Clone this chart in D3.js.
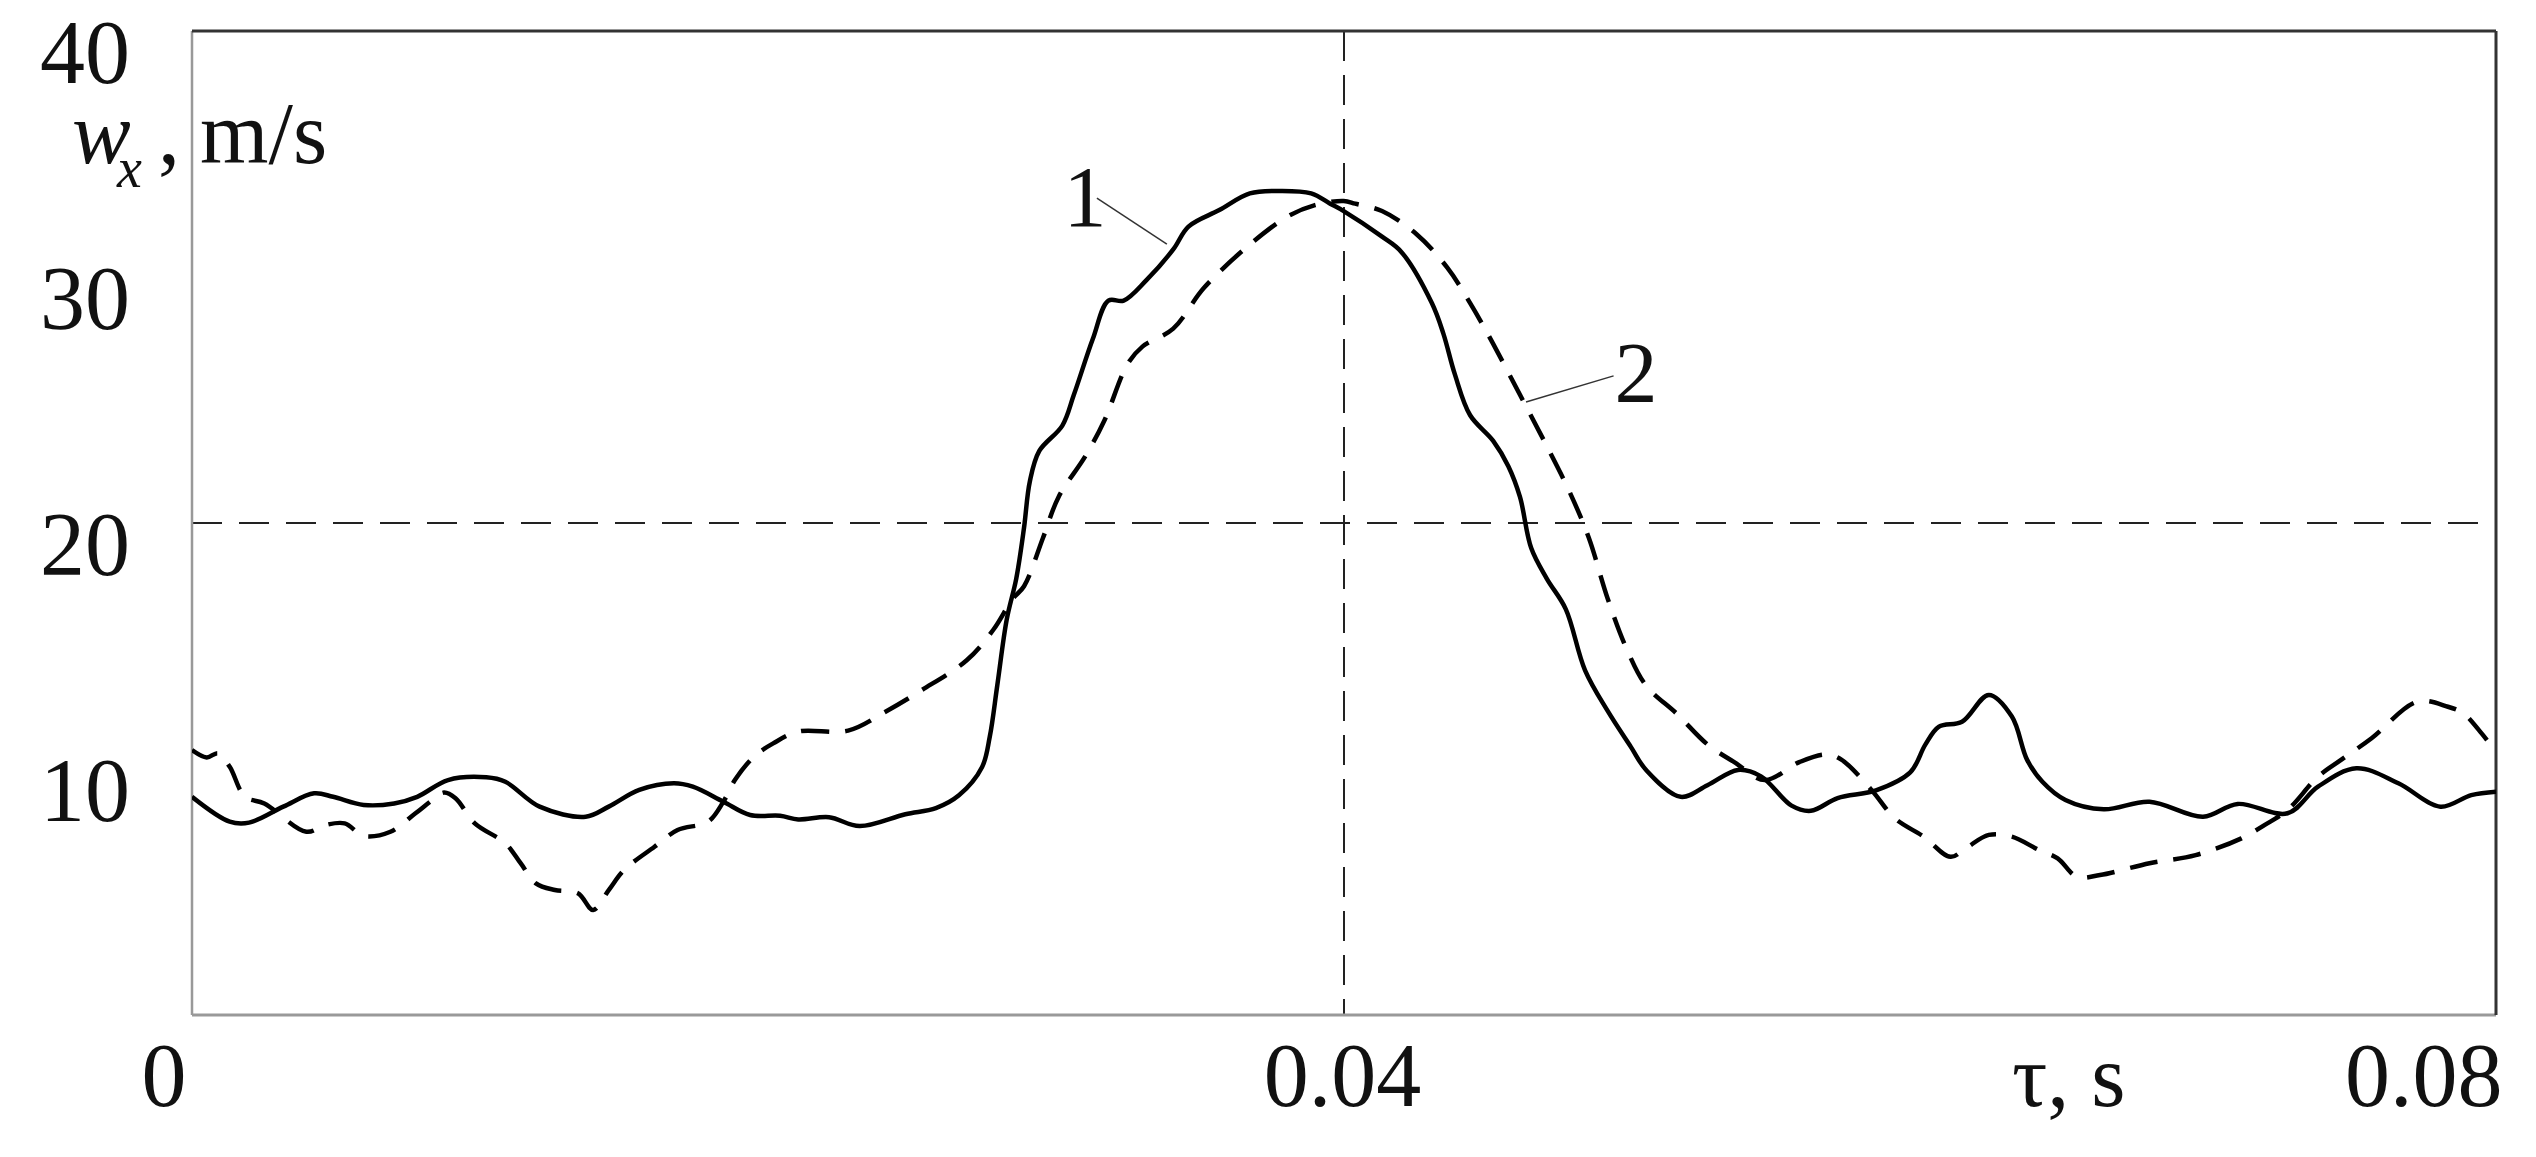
<!DOCTYPE html>
<html lang="en">
<head>
<meta charset="UTF-8">
<title>w_x vs tau</title>
<script src="https://d3js.org/d3.v7.min.js"></script>
<style>
  body { margin: 0; background: #fff; }
  text { font-family: "Liberation Serif", "Times New Roman", serif; fill: #111; }
</style>
</head>
<body>
<svg id="chart" width="2536" height="1157"></svg>
<script>
// curve 1 (solid)
const t1 = [0, 0.00131, 0.00198, 0.00317, 0.00424, 0.0049, 0.00596, 0.00702, 0.00782, 0.00889,
  0.01022, 0.01088, 0.01207, 0.01367, 0.01447, 0.01553, 0.01673, 0.01739, 0.01845, 0.01938,
  0.02042, 0.02105, 0.02212, 0.02318, 0.02477, 0.02583, 0.02663, 0.02743, 0.0277, 0.02796,
  0.02829, 0.02862, 0.02889, 0.02909, 0.02942, 0.03022, 0.03062, 0.03128, 0.03182, 0.03235,
  0.03314, 0.03407, 0.0346, 0.03567, 0.03673, 0.03779, 0.03886, 0.03952, 0.03999, 0.04132,
  0.04199, 0.04305, 0.04345, 0.04385, 0.04438, 0.04518, 0.04571, 0.04611, 0.0465, 0.04704,
  0.0477, 0.04837, 0.04916, 0.04996, 0.05049, 0.05169, 0.05262, 0.05368, 0.05448, 0.05554,
  0.05621, 0.05714, 0.05847, 0.05966, 0.06019, 0.06066, 0.06146, 0.06239, 0.06319, 0.06372,
  0.06425, 0.06505, 0.06638, 0.06797, 0.06983, 0.07103, 0.07276, 0.07382, 0.07515, 0.07661,
  0.07807, 0.07914, 0.08];
const v1 = [8.87, 7.86, 7.82, 8.47, 9.01, 8.87, 8.54, 8.6, 8.87, 9.55,
  9.66, 9.48, 8.47, 8.06, 8.47, 9.15, 9.42, 9.28, 8.67, 8.13,
  8.1, 7.95, 8.04, 7.68, 8.16, 8.41, 8.93, 10.07, 11.31, 13.39,
  16.08, 17.74, 19.81, 21.68, 22.93, 23.96, 25.21, 27.49, 29.04, 29.04,
  29.87, 31.12, 32.05, 32.72, 33.4, 33.5, 33.4, 32.98, 32.68, 31.64,
  31.02, 28.94, 27.7, 26.04, 24.38, 23.34, 22.3, 21.06, 18.98, 17.74,
  16.5, 14.01, 12.35, 10.9, 9.96, 8.87, 9.34, 9.96, 9.7, 8.51,
  8.3, 8.82, 9.13, 9.86, 11.0, 11.72, 11.92, 13.01, 12.13, 10.37,
  9.48, 8.74, 8.36, 8.67, 8.06, 8.58, 8.2, 9.28, 10.03, 9.42,
  8.47, 8.94, 9.08];

// curve 2 (dashed)
const t2 = [0, 0.00051, 0.00091, 0.00131, 0.00184, 0.00251, 0.00397, 0.00463, 0.0053, 0.00596,
  0.00689, 0.00776, 0.00835, 0.00875, 0.00915, 0.00982, 0.01088, 0.01141, 0.01194, 0.0126,
  0.0134, 0.01393, 0.01447, 0.015, 0.01606, 0.01686, 0.01792, 0.01845, 0.01885, 0.01951,
  0.02018, 0.02105, 0.02278, 0.02411, 0.0253, 0.0269, 0.02783, 0.02849, 0.02889, 0.02955,
  0.03009, 0.03102, 0.03168, 0.03248, 0.03301, 0.03407, 0.03514, 0.03673, 0.03806, 0.03899,
  0.03999, 0.04039, 0.04132, 0.04252, 0.04358, 0.04438, 0.04518, 0.04611, 0.04704, 0.04783,
  0.0485, 0.04916, 0.04983, 0.05049, 0.05156, 0.05262, 0.05355, 0.05461, 0.05581, 0.05674,
  0.05727, 0.05833, 0.05913, 0.06013, 0.06106, 0.06159, 0.06239, 0.06319, 0.06412, 0.06478,
  0.06545, 0.06625, 0.06797, 0.06957, 0.07116, 0.07196, 0.07276, 0.07382, 0.07462, 0.07568,
  0.07727, 0.07833, 0.07887, 0.0794, 0.08];
const v2 = [10.77, 10.47, 10.64, 10.09, 8.87, 8.6, 7.45, 7.72, 7.79, 7.28,
  7.45, 8.2, 8.74, 9.04, 8.81, 7.79, 6.98, 6.17, 5.35, 5.08,
  4.95, 4.27, 5.08, 5.89, 6.84, 7.52, 7.86, 8.67, 9.55, 10.5,
  11.04, 11.52, 11.56, 12.35, 13.18, 14.42, 15.67, 16.91, 17.43, 19.4,
  21.06, 22.72, 24.17, 26.45, 27.18, 27.9, 29.56, 31.32, 32.47, 32.92,
  33.09, 32.98, 32.68, 31.74, 30.39, 28.94, 27.28, 25.21, 23.13, 21.27,
  19.4, 16.91, 14.84, 13.39, 12.24, 11.0, 10.28, 9.55, 10.28, 10.59,
  10.38, 9.13, 7.99, 7.25, 6.43, 6.78, 7.32, 7.25, 6.71, 6.37,
  5.62, 5.69, 6.17, 6.5, 7.18, 7.72, 8.33, 9.69, 10.37, 11.25,
  12.74, 12.53, 12.26, 11.59, 10.7];

const yTicks = [10, 20, 30, 40];
const xTicks = [0, 0.04, 0.08];
const xTickLabels = ["0", "0.04", "0.08"];

// curve labels: [text, label t, label v, leader from t, v, to t, v]
const curveLabels = [
  ["1", 0.03101, 32.07, 0.03142, 33.21, 0.03385, 31.34],
  ["2", 0.05014, 24.92, 0.04936, 25.98, 0.04632, 24.92]
];

const svg = d3.select("#chart");
const mLeft = 192, mRight = 2496, mTop = 31, mBottom = 1015;

const x = d3.scaleLinear().domain([0, 0.08]).range([mLeft, mRight]);
const y = d3.scaleLinear().domain([0, 40]).range([mBottom, mTop]);

svg.append("rect").attr("width", 2536).attr("height", 1157).attr("fill", "#fff");

svg.append("defs").append("clipPath").attr("id", "clip")
  .append("rect").attr("x", mLeft).attr("y", mTop)
  .attr("width", mRight - mLeft).attr("height", mBottom - mTop);

// reference dashed lines
svg.append("line")
  .attr("x1", mLeft).attr("x2", mRight).attr("y1", y(20)).attr("y2", y(20))
  .attr("stroke", "#222").attr("stroke-width", 2).attr("stroke-dasharray", "30,17");
svg.append("line")
  .attr("x1", x(0.04)).attr("x2", x(0.04)).attr("y1", mTop).attr("y2", mBottom)
  .attr("stroke", "#222").attr("stroke-width", 2).attr("stroke-dasharray", "30,14");

// frame: left/bottom grey, top/right dark
svg.append("line").attr("x1", mLeft).attr("x2", mLeft).attr("y1", mTop).attr("y2", mBottom)
  .attr("stroke", "#999").attr("stroke-width", 2.5);
svg.append("line").attr("x1", mLeft).attr("x2", mRight).attr("y1", mBottom).attr("y2", mBottom)
  .attr("stroke", "#999").attr("stroke-width", 3);
svg.append("line").attr("x1", mLeft).attr("x2", mRight).attr("y1", mTop).attr("y2", mTop)
  .attr("stroke", "#333").attr("stroke-width", 3);
svg.append("line").attr("x1", mRight).attr("x2", mRight).attr("y1", mTop).attr("y2", mBottom)
  .attr("stroke", "#333").attr("stroke-width", 3);

const line = d3.line()
  .x(d => x(d[0])).y(d => y(d[1]))
  .curve(d3.curveCatmullRom.alpha(0.5));

const plot = svg.append("g").attr("clip-path", "url(#clip)");
plot.append("path")
  .attr("d", line(t1.map((t, i) => [t, v1[i]])))
  .attr("fill", "none").attr("stroke", "#000").attr("stroke-width", 4.5);
plot.append("path")
  .attr("d", line(t2.map((t, i) => [t, v2[i]])))
  .attr("fill", "none").attr("stroke", "#000").attr("stroke-width", 4.5)
  .attr("stroke-dasharray", "28,16");

// y axis labels
const yAxis = svg.append("g").attr("transform", `translate(${mLeft},0)`)
  .call(d3.axisLeft(y).tickValues(yTicks).tickSize(0).tickPadding(62).tickFormat(d3.format("d")));
yAxis.select(".domain").remove();
yAxis.selectAll("text")
  .attr("font-family", "Liberation Serif, serif").attr("font-size", 90)
  .attr("dy", "0.35em").attr("y", 20).attr("fill", "#111");

// x axis labels
const xAxis = svg.append("g").attr("transform", `translate(0,${mBottom})`)
  .call(d3.axisBottom(x).tickValues(xTicks).tickSize(0).tickFormat((d, i) => xTickLabels[i]));
xAxis.select(".domain").remove();
xAxis.selectAll("text")
  .attr("font-family", "Liberation Serif, serif").attr("font-size", 90)
  .attr("dy", 0).attr("y", 91).attr("fill", "#111")
  .attr("text-anchor", (d, i) => i === 0 ? "end" : (i === 2 ? "end" : "middle"))
  .attr("x", (d, i) => i === 0 ? -6 : (i === 2 ? 6 : -2));

// axis titles
svg.append("text").attr("x", 2012).attr("y", 1106).attr("font-size", 88).text("τ, s");

const yt = svg.append("text").attr("y", 163).attr("font-size", 88);
yt.append("tspan").attr("x", 72).attr("font-style", "italic").text("w");
yt.append("tspan").attr("x", 117).attr("y", 187).attr("font-size", 56).attr("font-style", "italic").text("x");
yt.append("tspan").attr("x", 158).attr("y", 163).text(",");
yt.append("tspan").attr("x", 200).text("m/s");

// curve labels with leaders
curveLabels.forEach(c => {
  svg.append("line")
    .attr("x1", x(c[3])).attr("y1", y(c[4])).attr("x2", x(c[5])).attr("y2", y(c[6]))
    .attr("stroke", "#333").attr("stroke-width", 1.5);
  svg.append("text").attr("x", x(c[1])).attr("y", y(c[2]))
    .attr("text-anchor", "middle").attr("font-size", 86).text(c[0]);
});
</script>
</body>
</html>
